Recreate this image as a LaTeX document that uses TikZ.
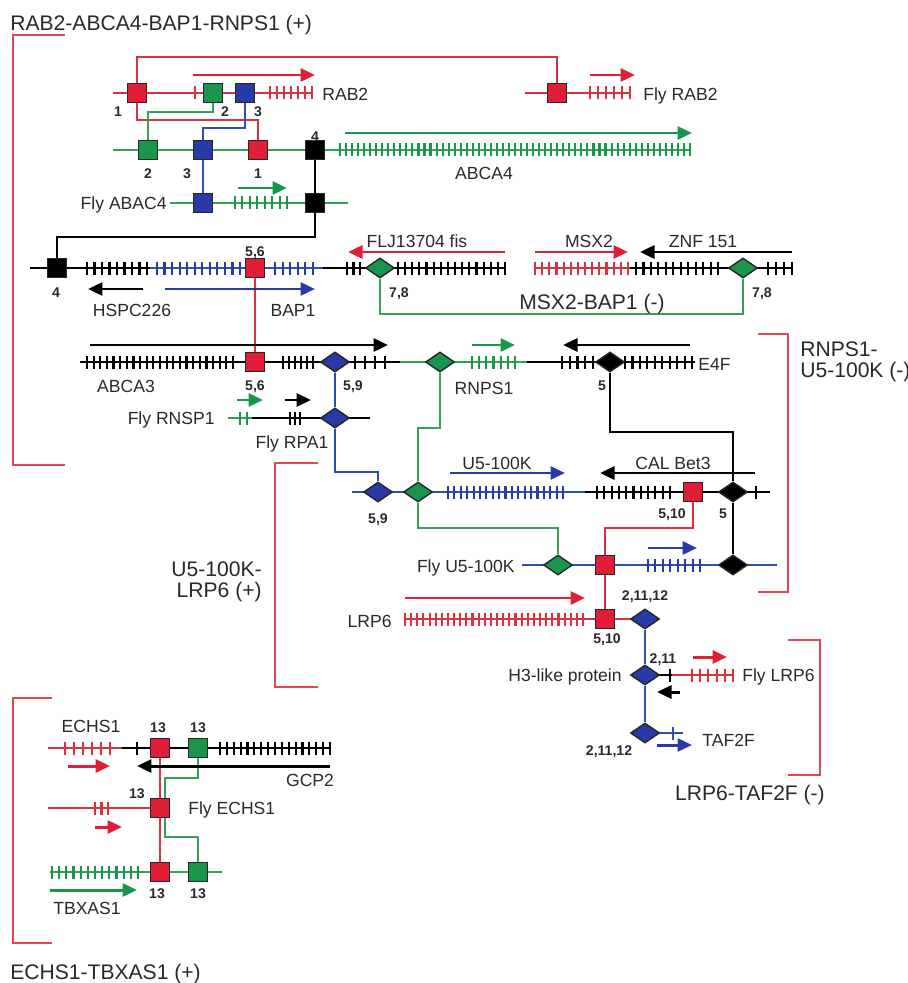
\documentclass[tikz,border=0pt]{standalone}
\usepackage{fontspec}
\setmainfont{Liberation Sans}
\usetikzlibrary{arrows.meta,shapes.geometric,backgrounds}
\definecolor{cr}{RGB}{224,30,55}
\definecolor{cg}{RGB}{25,150,75}
\definecolor{cb}{RGB}{40,58,165}
\definecolor{lr}{RGB}{218,50,62}
\definecolor{lg}{RGB}{55,160,88}
\definecolor{lb}{RGB}{45,78,180}
\definecolor{br}{RGB}{226,72,82}
\definecolor{tx}{RGB}{40,40,45}
\newcommand\tks[5]{\foreach \i in {0,...,#4}{\draw[#1] ({#2+(#3-#2)/#4*\i},{#5-6.5}) -- ++(0,13);}}
\tikzset{
 sq/.style={draw=black!85, line width=0.8pt, minimum size=0.37cm, inner sep=0pt},
 rsq/.style={sq, fill=cr}, gsq/.style={sq, fill=cg}, bsq/.style={sq, fill=cb}, ksq/.style={sq, fill=black},
 dm/.style={diamond, draw=black!85, line width=0.8pt, minimum width=0.58cm, minimum height=0.4cm, inner sep=0pt},
 gdm/.style={dm, fill=cg}, bdm/.style={dm, fill=cb}, kdm/.style={dm, fill=black},
 gene/.style={font=\fontsize{10}{12}\selectfont, text height=7.2pt, text depth=0pt, inner sep=0pt, text=tx},
 ttl/.style={font=\fontsize{12}{14}\selectfont, text height=8.6pt, text depth=0pt, inner sep=0pt, text=tx},
 num/.style={font=\bfseries\fontsize{8}{9}\selectfont, text height=5.8pt, text depth=0pt, inner sep=0pt, text=tx},
 row/.style={line width=1.2pt},
 tk/.style={line width=1.2pt},
 con/.style={line width=1.2pt},
 ar/.style={line width=1.7pt, -{Triangle[length=0.29cm,width=0.26cm]}},
 brk/.style={draw=br, line width=1.3pt},
}
\begin{document}
\begin{tikzpicture}[x=0.02cm,y=-0.02cm]
\useasboundingbox (0,0) rectangle (908,983);
% brackets
\draw[brk] (65,35) -- (13,35) -- (13,465) -- (65,465);
\draw[brk] (318,463) -- (275,463) -- (275,687) -- (318,687);
\draw[brk] (758,334) -- (788,334) -- (788,592) -- (758,592);
\draw[brk] (788,640) -- (820,640) -- (820,775) -- (788,775);
\draw[brk] (52,698) -- (13,698) -- (13,943) -- (52,943);
% titles
\node[ttl,anchor=west] (t1) at (10,23) {RAB2-ABCA4-BAP1-RNPS1 (+)};
\node[ttl] (t2) at (592,302) {MSX2-BAP1 (-)};
\node[ttl,anchor=west] (t3a) at (800,349) {RNPS1-};
\node[ttl,anchor=west] (t3b) at (800,370) {U5-100K (-)};
\node[ttl,anchor=east] (t4a) at (262,569) {U5-100K-};
\node[ttl,anchor=east] (t4b) at (262,590) {LRP6 (+)};
\node[ttl] (t5) at (750,793) {LRP6-TAF2F (-)};
\node[ttl,anchor=west] (t6) at (10,972) {ECHS1-TBXAS1 (+)};
% ---- RAB2 row
\draw[row,lr] (113,93) -- (312,93);
\tks{tk,lr}{270}{312}{6}{93}
\draw[tk,lr] (195,86.5) -- (195,99.5);
\draw[ar,cr] (193,75) -- (315,75);
\node[gene,anchor=west] (l1) at (322,94) {RAB2};
% Fly RAB2
\draw[row,lr] (525,93) -- (630,93);
\tks{tk,lr}{590}{630}{5}{93}
\draw[ar,cr] (590,75) -- (635,75);
\node[gene,anchor=west] (l2) at (643,94) {Fly RAB2};
% ABCA4
\draw[row,lg] (113,150) -- (690,150);
\tks{tk,cg}{340}{690}{58}{150}
\draw[ar,cg] (345,133) -- (692,133);
\node[gene] (l3) at (484,173) {ABCA4};
% Fly ABAC4
\draw[row,lg] (170,203) -- (348,203);
\tks{tk,cg}{235}{287}{7}{203}
\draw[ar,cg] (238,188) -- (287,188);
\node[gene,anchor=east] (l4) at (167,203) {Fly ABAC4};
% HSPC226 / BAP1 / MSX2 row
\draw[row,black] (30,268) -- (150,268);
\draw[row,lb] (150,268) -- (323,268);
\draw[row,black] (323,268) -- (505,268);
\draw[row,lr] (535,268) -- (630,268);
\draw[row,black] (630,268) -- (792,268);
\tks{tk,black}{87}{147}{8}{268}
\tks{tk,cb}{157}{240}{11}{268}
\tks{tk,cb}{275}{313}{5}{268}
\tks{tk,black}{347}{360}{2}{268}
\tks{tk,black}{398}{505}{15}{268}
\tks{tk,lr}{535}{628}{13}{268}
\tks{tk,black}{636}{718}{11}{268}
\tks{tk,black}{768}{792}{3}{268}
\draw[ar,black] (143,289) -- (88,289);
\draw[ar,cb] (165,289) -- (315,289);
\draw[ar,cr] (505,252) -- (348,252);
\draw[ar,cr] (535,252) -- (628,252);
\draw[ar,black] (792,252) -- (640,252);
\node[gene] (l5) at (132,310) {HSPC226};
\node[gene] (l6) at (293,310) {BAP1};
\node[gene] (l7) at (417,241) {FLJ13704 fis};
\node[gene] (l8) at (589,241) {MSX2};
\node[gene] (l9) at (703,241) {ZNF 151};
% ABCA3 / RNPS1 / E4F row
\draw[row,black] (80,362) -- (400,362);
\draw[row,lg] (400,362) -- (527,362);
\draw[row,black] (527,362) -- (695,362);
\tks{tk,black}{87}{233}{22}{362}
\tks{tk,black}{283}{313}{5}{362}
\tks{tk,black}{355}{385}{3}{362}
\tks{tk,cg}{472}{515}{6}{362}
\tks{tk,black}{562}{593}{4}{362}
\tks{tk,black}{625}{692}{9}{362}
\draw[ar,black] (90,345) -- (388,345);
\draw[ar,cg] (472,345) -- (515,345);
\draw[ar,black] (690,345) -- (563,345);
\node[gene] (l10) at (126,386) {ABCA3};
\node[gene] (l11) at (484,388) {RNPS1};
\node[gene,anchor=west] (l12) at (698,364) {E4F};
% Fly RNSP1 row
\draw[row,lg] (228,418) -- (252,418);
\draw[row,black] (252,418) -- (370,418);
\tks{tk,cg}{240}{247}{1}{418}
\tks{tk,black}{290}{300}{2}{418}
\draw[ar,cg] (237,400) -- (263,400);
\draw[ar,black] (285,400) -- (311,400);
\node[gene,anchor=east] (l13) at (215,418) {Fly RNSP1};
\node[gene] (l14) at (292,442) {Fly RPA1};
% U5-100K / CAL Bet3 row
\draw[row,lb] (352,492) -- (585,492);
\draw[row,black] (585,492) -- (770,492);
\tks{tk,cb}{448}{563}{18}{492}
\tks{tk,black}{597}{670}{10}{492}
\draw[tk,black] (756,485.5) -- (756,498.5);
\draw[ar,cb] (450,473) -- (565,473);
\draw[ar,black] (755,473) -- (600,473);
\node[gene] (l15) at (497,463) {U5-100K};
\node[gene] (l16) at (673,463) {CAL Bet3};
% Fly U5-100K row
\draw[row,lb] (522,565) -- (777,565);
\tks{tk,cb}{648}{700}{7}{565}
\draw[ar,cb] (648,548) -- (697,548);
\node[gene,anchor=east] (l17) at (515,566) {Fly U5-100K};
% LRP6 row
\draw[row,lr] (405,619) -- (645,619);
\tks{tk,lr}{405}{583}{29}{619}
\draw[ar,cr] (405,598) -- (585,598);
\node[gene,anchor=east] (l18) at (392,621) {LRP6};
% H3-like / Fly LRP6
\draw[row,black] (645,675) -- (672,675);
\draw[row,lr] (672,675) -- (733,675);
\draw[tk,black] (670,668.5) -- (670,681.5);
\tks{tk,lr}{692}{733}{5}{675}
\draw[ar,cr] (693,657) -- (727,657);
\draw[ar,black] (680,692) -- (657,692);
\node[gene,anchor=east] (l19) at (622,675) {H3-like protein};
\node[gene,anchor=west] (l20) at (742,675) {Fly LRP6};
% TAF2F
\draw[row,lb] (645,733) -- (683,733);
\draw[tk,lb] (673,726.5) -- (673,739.5);
\draw[ar,cb] (657,745) -- (692,745);
\node[gene,anchor=west] (l21) at (702,740) {TAF2F};
% ECHS1 / GCP2
\draw[row,lr] (48,748) -- (122,748);
\draw[row,black] (122,748) -- (330,748);
\tks{tk,lr}{65}{110}{5}{748}
\draw[tk,black] (137,741.5) -- (137,754.5);
\tks{tk,black}{220}{330}{16}{748}
\draw[ar,cr] (68,766) -- (110,766);
\draw[ar,black] (330,766) -- (137,766);
\node[gene] (l22) at (91,726) {ECHS1};
\node[gene] (l23) at (310,780) {GCP2};
% Fly ECHS1
\draw[row,lr] (48,808) -- (160,808);
\tks{tk,lr}{95}{108}{2}{808}
\draw[ar,cr] (95,827) -- (122,827);
\node[gene,anchor=west] (l24) at (188,808) {Fly ECHS1};
% TBXAS1
\draw[row,lg] (50,872) -- (222,872);
\tks{tk,cg}{52}{138}{12}{872}
\draw[ar,cg] (50,890) -- (137,890);
\node[gene] (l25) at (87,908) {TBXAS1};
% ---- marker nodes
\node[rsq] (r1) at (137,93) {};
\node[gsq] (g2) at (213,93) {};
\node[bsq] (b3) at (245,93) {};
\node[rsq] (fr) at (557,93) {};
\node[gsq] (g2b) at (148,150) {};
\node[bsq] (b3b) at (203,150) {};
\node[rsq] (r1b) at (258,150) {};
\node[ksq] (k4) at (315,150) {};
\node[bsq] (b3c) at (203,203) {};
\node[ksq] (k4b) at (315,203) {};
\node[ksq] (k4c) at (57,268) {};
\node[rsq] (r56) at (255,268) {};
\node[gdm] (g78) at (380,268) {};
\node[gdm] (g78b) at (743,268) {};
\node[rsq] (r56b) at (255,362) {};
\node[bdm] (b59) at (335,362) {};
\node[gdm] (gr) at (440,362) {};
\node[kdm] (k5) at (610,362) {};
\node[bdm] (b59b) at (335,418) {};
\node[bdm] (b59c) at (378,492) {};
\node[gdm] (gu) at (418,492) {};
\node[rsq] (r510) at (693,492) {};
\node[kdm] (k5b) at (733,492) {};
\node[gdm] (gu2) at (558,565) {};
\node[rsq] (r510b) at (605,565) {};
\node[kdm] (k5c) at (733,565) {};
\node[rsq] (r510c) at (605,619) {};
\node[bdm] (bl) at (645,619) {};
\node[bdm] (bh) at (645,675) {};
\node[bdm] (bt) at (645,733) {};
\node[rsq] (re1) at (160,748) {};
\node[gsq] (ge1) at (198,748) {};
\node[rsq] (re2) at (160,808) {};
\node[rsq] (re3) at (160,872) {};
\node[gsq] (ge3) at (198,872) {};
\coordinate (z1) at (165,778);
\coordinate (z2) at (165,837);
% ---- connectors
\begin{scope}[on background layer]
\draw[con,lr] (r1) -- (r1 |- 0,57) -| (fr);
\draw[con,lr] (r1) -- (r1 |- 0,120) -| (r1b);
\draw[con,lg] (g2) -- (g2 |- 0,112) -| (g2b);
\draw[con,lb] (b3) -- (b3 |- 0,128) -| (b3b);
\draw[con,lb] (b3b) -- (b3c);
\draw[con,black] (k4) -- (k4b);
\draw[con,black] (k4b) -- (k4b |- 0,237) -| (k4c);
\draw[con,lr] (r56) -- (r56b);
\draw[con,lg] (g78) -- (g78 |- 0,314) -| (g78b);
\draw[con,lb] (b59) -- (b59b);
\draw[con,lb] (b59b) -- (b59b |- 0,472) -| (b59c);
\draw[con,lg] (gr) -- (gr |- 0,428) -| (gu);
\draw[con,black] (k5) -- (k5 |- 0,432) -| (k5b);
\draw[con,black] (k5b) -- (k5c);
\draw[con,lg] (gu) -- (gu |- 0,528) -| (gu2);
\draw[con,lr] (r510) -- (r510 |- 0,528) -| (r510b);
\draw[con,lr] (r510b) -- (r510c);
\draw[con,lb] (bl) -- (bh);
\draw[con,lb] (bh) -- (bt);
\draw[con,lr] (re1) -- (re2);
\draw[con,lr] (re2) -- (re3);
\draw[con,lg] (ge1) |- (z1) -- (z2) -| (ge3);
\end{scope}
% ---- numbers
\node[num] (n1) at (118,111) {1};
\node[num] (n2) at (225,111) {2};
\node[num] (n3) at (258,111) {3};
\node[num] (n4) at (148,173) {2};
\node[num] (n5) at (187,173) {3};
\node[num] (n6) at (258,173) {1};
\node[num] (n7) at (315,136) {4};
\node[num] (n8) at (56,292) {4};
\node[num] (n9) at (255,251) {5,6};
\node[num] (n10) at (399,292) {7,8};
\node[num] (n11) at (762,292) {7,8};
\node[num] (n12) at (255,385) {5,6};
\node[num] (n13) at (353,385) {5,9};
\node[num] (n14) at (602,385) {5};
\node[num] (n15) at (378,518) {5,9};
\node[num] (n16) at (672,513) {5,10};
\node[num] (n17) at (723,513) {5};
\node[num] (n18) at (645,595) {2,11,12};
\node[num] (n19) at (607,638) {5,10};
\node[num] (n20) at (663,658) {2,11};
\node[num] (n21) at (609,750) {2,11,12};
\node[num] (n22) at (158,727) {13};
\node[num] (n23) at (198,727) {13};
\node[num] (n24) at (137,793) {13};
\node[num] (n25) at (157,893) {13};
\node[num] (n26) at (198,893) {13};
\end{tikzpicture}
\end{document}
